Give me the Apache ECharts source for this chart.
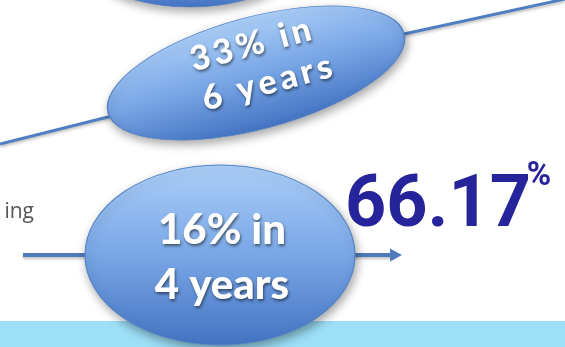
<!DOCTYPE html>
<html>
<head>
<meta charset="utf-8">
<script src="https://cdn.jsdelivr.net/npm/echarts@6/dist/echarts.min.js"></script>
<style>
html, body { margin: 0; padding: 0; background: #ffffff; }
#chart { width: 565px; height: 347px; }
</style>
</head>
<body>
<div id="chart"></div>
<script>
// 数据：坐标按画面像素量取（x 向右，y 向下）
var risePath = [[0, 144], [108, 117], [404, 34], [565, -1]];
var flowPath = [[23, 255], [396, 255]];
var topBubble = [[190, -36]];
var midBubble = [[256, 73]];
var lowBubble = [[220, 255]];
var midText = ['33% in', '6 years'];
var lowText = ['16% in', '4 years'];
var rateValue = 66.17;
var ratePoint = [[438, 208]];
var pctPoint = [[539, 177]];
var sideWord = 'ing';
var sidePoint = [[34, 212]];
var band = [321, 347];

var myChart = echarts.init(document.getElementById('chart'));

var bubbleFill = new echarts.graphic.LinearGradient(0, 0, 0, 1, [
	{ offset: 0, color: '#abcff8' },
	{ offset: 0.5, color: '#78a6e6' },
	{ offset: 1, color: '#4474c3' }
]);

var bubbleStyle = {
	color: bubbleFill,
	opacity: 1,
	borderColor: '#5584c6',
	borderWidth: 1,
	shadowBlur: 10,
	shadowColor: 'rgba(0,0,0,0.35)',
	shadowOffsetX: 2,
	shadowOffsetY: 4
};

var textShadow = {
	textShadowColor: 'rgba(0,0,0,0.5)',
	textShadowBlur: 3,
	textShadowOffsetX: 1,
	textShadowOffsetY: 2
};

// 每个字符单独一段，模拟拉开的字距；第二行首字稍往右
function spread(lines)
{
	return lines.map(function (line, li) {
		return line.split('').map(function (ch, ci) {
			return (li > 0 && ci === 0 ? '{d|' : '{c|') + ch + '}';
		}).join('');
	}).join('\n');
}

var midChar = Object.assign({
	color: '#ffffff',
	fontFamily: 'Lato',
	fontWeight: 900,
	fontSize: 34,
	lineHeight: 41,
	padding: [0, 2]
}, textShadow);

var option =
{
	backgroundColor: '#ffffff',
	animation: false,
	grid: { left: 0, right: 0, top: 0, bottom: 0 },
	xAxis: { type: 'value', min: 0, max: 565, show: false },
	yAxis: { type: 'value', min: 0, max: 347, inverse: true, show: false },
	series: [
	{
		name: 'rise',
		type: 'line',
		data: risePath,
		symbol: 'none',
		clip: false,
		z: 1,
		lineStyle: {
			color: '#4f7fc0', width: 3,
			shadowBlur: 3, shadowColor: 'rgba(0,0,0,0.25)', shadowOffsetY: 2
		}
	},
	{
		name: 'flow',
		type: 'line',
		data: flowPath.map(function (p, i) {
			if (i === flowPath.length - 1)
				return { value: p, symbol: 'triangle', symbolSize: [13, 12], symbolRotate: -90 };
			return { value: p, symbol: 'none' };
		}),
		showSymbol: true,
		clip: false,
		z: 1,
		itemStyle: { color: '#4f7bbd', opacity: 1 },
		lineStyle: {
			color: '#4f7bbd', width: 4,
			shadowBlur: 3, shadowColor: 'rgba(0,0,0,0.25)', shadowOffsetY: 2
		},
		markArea: {
			silent: true,
			itemStyle: { color: '#9ddff6', opacity: 1 },
			data: [[{ yAxis: band[0] }, { yAxis: band[1] }]]
		}
	},
	{
		name: 'top',
		type: 'scatter',
		data: topBubble,
		symbol: 'circle',
		symbolSize: [200, 86],
		clip: false,
		z: 5,
		itemStyle: bubbleStyle
	},
	{
		name: 'mid',
		type: 'scatter',
		data: midBubble,
		symbol: 'circle',
		symbolSize: [306, 112],
		symbolRotate: 15,
		clip: false,
		z: 5,
		itemStyle: bubbleStyle,
		label: {
			show: true,
			position: 'inside',
			rotate: 15,
			offset: [2, -8],
			formatter: function () { return spread(midText); },
			rich: {
				c: midChar,
				d: Object.assign({}, midChar, { padding: [0, 2, 0, 14] })
			}
		}
	},
	{
		name: 'low',
		type: 'scatter',
		data: lowBubble,
		symbol: 'circle',
		symbolSize: [270, 180],
		clip: false,
		z: 5,
		itemStyle: bubbleStyle,
		label: Object.assign({
			show: true,
			position: 'inside',
			offset: [2, 3],
			formatter: lowText.join('\n'),
			color: '#ffffff',
			fontFamily: 'Lato',
			fontWeight: 900,
			fontSize: 42,
			lineHeight: 55
		}, textShadow)
	},
	{
		name: 'rate',
		type: 'scatter',
		data: ratePoint,
		symbolSize: 0,
		z: 6,
		itemStyle: { opacity: 1 },
		label: {
			show: true,
			position: 'inside',
			formatter: rateValue.toFixed(2),
			color: '#26249a',
			fontFamily: 'Roboto',
			fontWeight: 'bold',
			fontSize: 72
		}
	},
	{
		name: 'pct',
		type: 'scatter',
		data: pctPoint,
		symbolSize: 0,
		z: 6,
		itemStyle: { opacity: 1 },
		label: {
			show: true,
			position: 'inside',
			formatter: '%',
			color: '#26249a',
			fontFamily: 'Roboto',
			fontWeight: 'bold',
			fontSize: 33
		}
	},
	{
		name: 'side',
		type: 'scatter',
		data: sidePoint,
		symbolSize: 0,
		z: 6,
		itemStyle: { opacity: 1 },
		label: {
			show: true,
			position: 'left',
			distance: 0,
			formatter: sideWord,
			color: '#555555',
			fontFamily: 'Open Sans',
			fontSize: 21
		}
	}]
};

myChart.setOption(option);
</script>
</body>
</html>
